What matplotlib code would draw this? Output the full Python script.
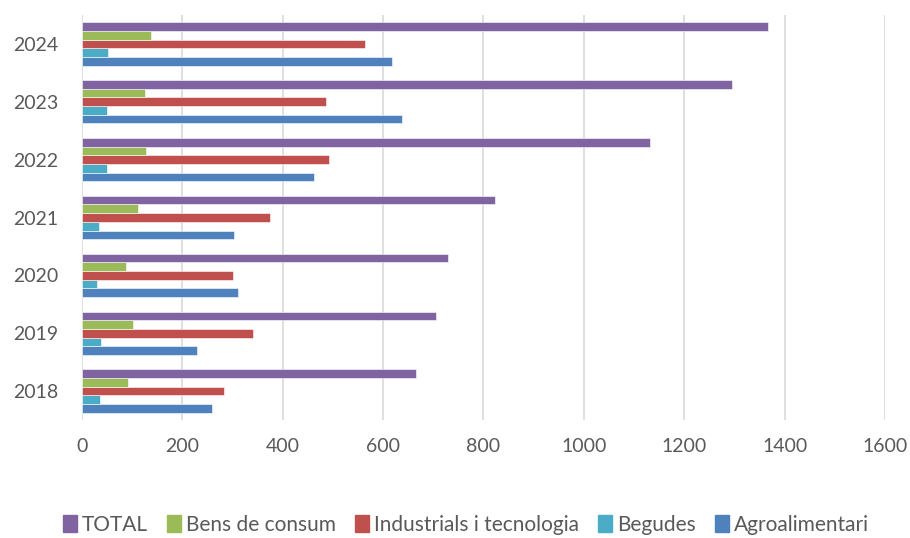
import numpy as np
import matplotlib.pyplot as plt
from matplotlib.patches import Patch

plt.rcParams['font.family'] = ['Lato', 'DejaVu Sans']

# Data
years = ['2018', '2019', '2020', '2021', '2022', '2023', '2024']
agroalimentari = [259, 229, 311, 302, 463, 638, 617]
begudes = [36, 37, 30, 33, 49, 49, 51]
industrials = [282, 341, 301, 375, 492, 486, 564]
bens_consum = [91, 102, 87, 111, 128, 125, 138]
total = [666, 705, 729, 822, 1131, 1296, 1367]

series = [
    ('Agroalimentari', agroalimentari, '#4F81BD'),
    ('Begudes', begudes, '#4BACC6'),
    ('Industrials i tecnologia', industrials, '#C0504D'),
    ('Bens de consum', bens_consum, '#9BBB59'),
    ('TOTAL', total, '#8064A2'),
]

fig = plt.figure(figsize=(9.1, 5.38), dpi=100)
ax = fig.add_axes([0.0901, 0.2193, 0.8824, 0.7528])

y = np.arange(len(years))
n = len(series)
group = 0.75
h = group / n
for i, (name, vals, col) in enumerate(series):
    ax.barh(y - group / 2 + h * (i + 0.5), vals, height=h, color=col,
            edgecolor='white', linewidth=0.4, label=name, zorder=3)

ax.set_xlim(0, 1600)
ax.set_ylim(-0.5, len(years) - 0.5)
ax.set_xticks(range(0, 1601, 200))
ax.set_yticks(y)
ax.set_yticklabels(years)
ax.grid(axis='x', color='#d9d9d9', linewidth=1.2, zorder=0)
for s in ax.spines.values():
    s.set_visible(False)
ax.tick_params(axis='both', length=0, labelsize=14, colors='#595959')
ax.tick_params(axis='x', pad=13)
ax.tick_params(axis='y', pad=17)

handles = [Patch(color=c, label=nm) for nm, _, c in reversed(series)]
fig.legend(handles=handles, loc='center', bbox_to_anchor=(0.512, 0.025), ncol=5,
           frameon=False, fontsize=15, handlelength=0.67, handleheight=0.9,
           handletextpad=0.25, columnspacing=0.9, labelcolor='#595959')

plt.savefig('out.png', dpi=100)
